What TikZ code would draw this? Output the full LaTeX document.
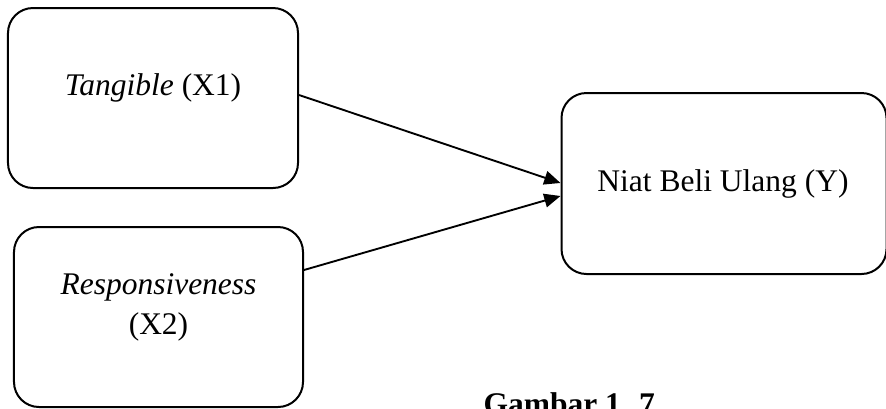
\documentclass[tikz,border=0pt]{standalone}
\usepackage{fontspec}
\setmainfont{Liberation Serif}
\usetikzlibrary{arrows.meta}
\begin{document}
\begin{tikzpicture}[x=0.4pt, y=-0.4pt,
    box/.style={draw, line width=0.8pt, rounded corners=10pt, minimum height=72pt},
    txt/.style={font=\fontsize{12.6}{16}\selectfont, align=center},
    link/.style={line width=0.75pt, -{Triangle[length=6.5pt, width=5.5pt]}}]
    \useasboundingbox (0,0) rectangle (886,408);
    \clip (0,0) rectangle (886,408);
    \node[box, minimum width=116pt] (x1) at (153,98) {};
    \node[box, minimum width=115.6pt] (x2) at (158.5,317) {};
    \node[box, minimum width=130pt, minimum height=72.4pt] (y) at (724,183.5) {};
    \node[txt] (x1txt) at ([yshift=4pt]x1.center) {\textit{Tangible} (X1)};
    \node[txt] (x2txt) at ([yshift=4pt]x2.center) {\textit{Responsiveness}\\(X2)};
    \node[txt] (ytxt) at ([xshift=-0.4pt]y.center) {Niat Beli Ulang (Y)};
    \draw[link] ([yshift=1.2pt]x1.east) -- ([yshift=0.2pt]y.west);
    \draw[link] ([yshift=18.8pt]x2.east) -- ([yshift=-5pt]y.west);
    \node[txt, inner sep=0pt, anchor=base west] (cap) at (483,414) {\bfseries Gambar 1. 7};
\end{tikzpicture}
\end{document}
